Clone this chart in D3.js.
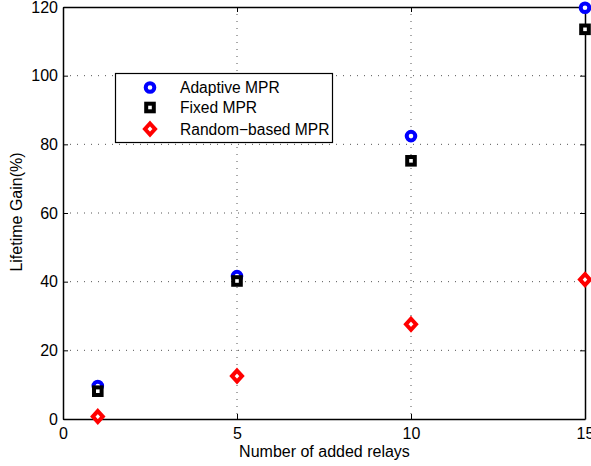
<!DOCTYPE html>
<html><head><meta charset="utf-8">
<script src="https://cdn.jsdelivr.net/npm/d3@7"></script>
<style>body{margin:0;background:#fff}svg{display:block}text{font-family:"Liberation Sans",Arial,sans-serif;fill:#000}</style>
</head><body><svg id="c" width="591" height="466"></svg>
<script>
const xValues = [1, 5, 10, 15];
const adaptive = [9.6, 41.6, 82.4, 119.8];
const fixed = [8.1, 40.2, 75.2, 113.5];
const randomBased = [0.7, 12.5, 27.6, 40.6];
const xTicks = [0, 5, 10, 15];
const yTicks = [0, 20, 40, 60, 80, 100, 120];
const seriesNames = ["Adaptive MPR", "Fixed MPR", "Random\u2212based MPR"];

const svg = d3.select("#c");
const L = 63, R = 585, T = 7, B = 419;
const x = d3.scaleLinear().domain([0, 15]).range([L, R]);
const y = d3.scaleLinear().domain([0, 120]).range([B, T]);

// grid
const g = svg.append("g");
g.selectAll(".gx").data(xTicks.slice(1, -1)).join("line")
  .attr("x1", d => x(d)).attr("x2", d => x(d)).attr("y1", T).attr("y2", B)
  .attr("stroke", "#555").attr("stroke-width", 1).attr("stroke-dasharray", "1,6");
g.selectAll(".gy").data(yTicks.slice(1, -1)).join("line")
  .attr("y1", d => y(d)).attr("y2", d => y(d)).attr("x1", L).attr("x2", R)
  .attr("stroke", "#555").attr("stroke-width", 1).attr("stroke-dasharray", "1,6");

// axes
const fmt = d3.format("d");
const ax = svg.append("g").attr("transform", `translate(0,${B})`)
  .call(d3.axisBottom(x).tickValues(xTicks).tickFormat(fmt).tickSizeInner(-5).tickSizeOuter(0).tickPadding(9));
const ay = svg.append("g").attr("transform", `translate(${L},0)`)
  .call(d3.axisLeft(y).tickValues(yTicks).tickFormat(fmt).tickSizeInner(-5).tickSizeOuter(0).tickPadding(5));
const axT = svg.append("g").attr("transform", `translate(0,${T})`)
  .call(d3.axisTop(x).tickValues(xTicks).tickFormat("").tickSizeInner(-5).tickSizeOuter(0));
const ayR = svg.append("g").attr("transform", `translate(${R},0)`)
  .call(d3.axisRight(y).tickValues(yTicks).tickFormat("").tickSizeInner(-5).tickSizeOuter(0));
[ax, ay, axT, ayR].forEach(a => {
  a.select(".domain").attr("stroke", "#000").attr("stroke-width", 1.5);
  a.selectAll(".tick line").attr("stroke", "#000");
  a.selectAll("text").attr("font-size", 16).attr("font-family", '"Liberation Sans",Arial,sans-serif').attr("fill", "#000");
});
ax.selectAll("text").attr("dy", "0.71em");

// axis titles
svg.append("text").attr("x", (L + R) / 2 + 0.5).attr("y", 457).attr("text-anchor", "middle")
  .attr("font-size", 16).text("Number of added relays");
svg.append("text").attr("transform", `translate(22,${(T + B) / 2 - 1}) rotate(-90)`).attr("text-anchor", "middle")
  .attr("font-size", 16).text("Lifetime Gain(%)");

// markers
function circle(sel) { sel.append("circle").attr("r", 4.3).attr("fill", "#fff").attr("stroke", "#0000ff").attr("stroke-width", 4); }
function square(sel) { sel.append("rect").attr("x", -3.8).attr("y", -3.8).attr("width", 7.6).attr("height", 7.6).attr("fill", "#fff").attr("stroke", "#000").attr("stroke-width", 4); }
function diamond(sel) { sel.append("path").attr("d", "M0,-5.5L5,0L0,5.5L-5,0Z").attr("fill", "#fff").attr("stroke", "#ff0000").attr("stroke-width", 4).attr("stroke-linejoin", "miter"); }

const series = [
  { vals: adaptive, draw: circle },
  { vals: fixed, draw: square },
  { vals: randomBased, draw: diamond }
];
series.forEach(s => {
  s.vals.forEach((v, i) => {
    svg.append("g").attr("transform", `translate(${x(xValues[i])},${y(v)})`).call(s.draw);
  });
});

// legend
const lg = svg.append("g");
lg.append("rect").attr("x", 115.5).attr("y", 73.5).attr("width", 217).attr("height", 69)
  .attr("fill", "#fff").attr("stroke", "#000").attr("stroke-width", 1.2);
const rowY = [87.5, 107.5, 129];
series.forEach((s, i) => {
  lg.append("g").attr("transform", `translate(150,${rowY[i]})`).call(s.draw);
  lg.append("text").attr("x", 180).attr("y", rowY[i]).attr("dy", "0.36em").attr("font-size", 15.6).text(seriesNames[i]);
});
</script></body></html>
